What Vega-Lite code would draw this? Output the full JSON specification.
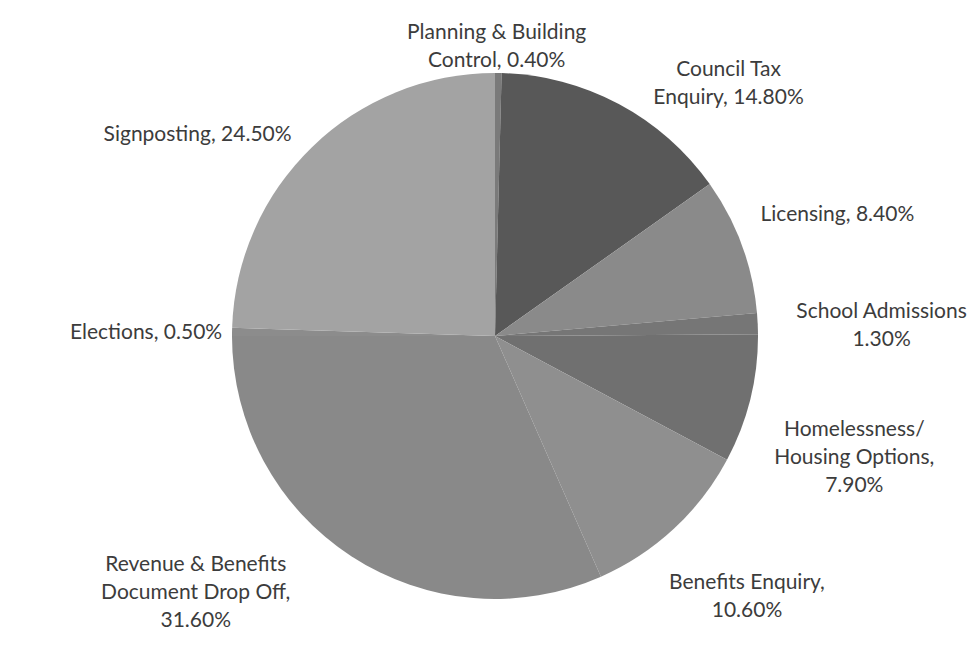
{
  "$schema": "https://vega.github.io/schema/vega-lite/v6.json",
  "width": 952,
  "height": 662,
  "autosize": {"type": "none"},
  "padding": {"left": 19, "top": 5, "right": 0, "bottom": 0},
  "background": "#ffffff",
  "config": {"view": {"stroke": null}, "text": {"font": "Lato", "fontSize": 21, "color": "#3c3c3c", "lineHeight": 28}},
  "data": {"values": [
    {"rank": 1, "category": "Planning & Building Control", "value": 0.4, "label": "Planning & Building\nControl, 0.40%"},
    {"rank": 2, "category": "Council Tax Enquiry", "value": 14.8, "label": "Council Tax\nEnquiry, 14.80%"},
    {"rank": 3, "category": "Licensing", "value": 8.4, "label": "Licensing, 8.40%"},
    {"rank": 4, "category": "School Admissions", "value": 1.3, "label": "School Admissions\n1.30%"},
    {"rank": 5, "category": "Homelessness/ Housing Options", "value": 7.9, "label": "Homelessness/\nHousing Options,\n7.90%"},
    {"rank": 6, "category": "Benefits Enquiry", "value": 10.6, "label": "Benefits Enquiry,\n10.60%"},
    {"rank": 7, "category": "Revenue & Benefits Document Drop Off", "value": 31.6, "label": "Revenue & Benefits\nDocument Drop Off,\n31.60%"},
    {"rank": 8, "category": "Elections", "value": 0.5, "label": "Elections, 0.50%"},
    {"rank": 9, "category": "Signposting", "value": 24.5, "label": "Signposting, 24.50%"}
  ]},
  "encoding": {
    "theta": {"field": "value", "type": "quantitative", "stack": true},
    "order": {"field": "rank", "type": "quantitative"}
  },
  "layer": [
    {
      "mark": {"type": "arc", "radius": 263, "stroke": null},
      "encoding": {
        "color": {
          "field": "category", "type": "nominal", "legend": null,
          "scale": {
            "domain": ["Planning & Building Control", "Council Tax Enquiry", "Licensing", "School Admissions", "Homelessness/ Housing Options", "Benefits Enquiry", "Revenue & Benefits Document Drop Off", "Elections", "Signposting"],
            "range": ["#7a7a7a", "#585858", "#8a8a8a", "#767676", "#707070", "#8f8f8f", "#898989", "#8c8c8c", "#a3a3a3"]
          }
        }
      }
    },
    {
      "mark": {"type": "text", "radius": 290, "dx": -2, "dy": -13, "lineBreak": "\n", "align": "center", "baseline": "middle"},
      "encoding": {"text": {"condition": {"test": "datum.rank === 1", "field": "label"}, "value": ""}}
    },
    {
      "mark": {"type": "text", "radius": 288, "dx": 98, "dy": -12, "lineBreak": "\n", "align": "center", "baseline": "middle"},
      "encoding": {"text": {"condition": {"test": "datum.rank === 2", "field": "label"}, "value": ""}}
    },
    {
      "mark": {"type": "text", "radius": 353, "dx": 11, "dy": 1, "lineBreak": "\n", "align": "center", "baseline": "middle"},
      "encoding": {"text": {"condition": {"test": "datum.rank === 3", "field": "label"}, "value": ""}}
    },
    {
      "mark": {"type": "text", "radius": 386, "dx": 1, "dy": -6, "lineBreak": "\n", "align": "center", "baseline": "middle"},
      "encoding": {"text": {"condition": {"test": "datum.rank === 4", "field": "label"}, "value": ""}}
    },
    {
      "mark": {"type": "text", "radius": 368, "dx": 2, "dy": 6, "lineBreak": "\n", "align": "center", "baseline": "middle"},
      "encoding": {"text": {"condition": {"test": "datum.rank === 5", "field": "label"}, "value": ""}}
    },
    {
      "mark": {"type": "text", "radius": 350, "dx": 14, "dy": -10, "lineBreak": "\n", "align": "center", "baseline": "middle"},
      "encoding": {"text": {"condition": {"test": "datum.rank === 6", "field": "label"}, "value": ""}}
    },
    {
      "mark": {"type": "text", "radius": 394, "dx": -84, "dy": -101, "lineBreak": "\n", "align": "center", "baseline": "middle"},
      "encoding": {"text": {"condition": {"test": "datum.rank === 7", "field": "label"}, "value": ""}}
    },
    {
      "mark": {"type": "text", "radius": 349, "dx": 0, "dy": 2, "lineBreak": "\n", "align": "center", "baseline": "middle"},
      "encoding": {"text": {"condition": {"test": "datum.rank === 8", "field": "label"}, "value": ""}}
    },
    {
      "mark": {"type": "text", "radius": 344, "dx": -58, "dy": 46, "lineBreak": "\n", "align": "center", "baseline": "middle"},
      "encoding": {"text": {"condition": {"test": "datum.rank === 9", "field": "label"}, "value": ""}}
    }
  ]
}
